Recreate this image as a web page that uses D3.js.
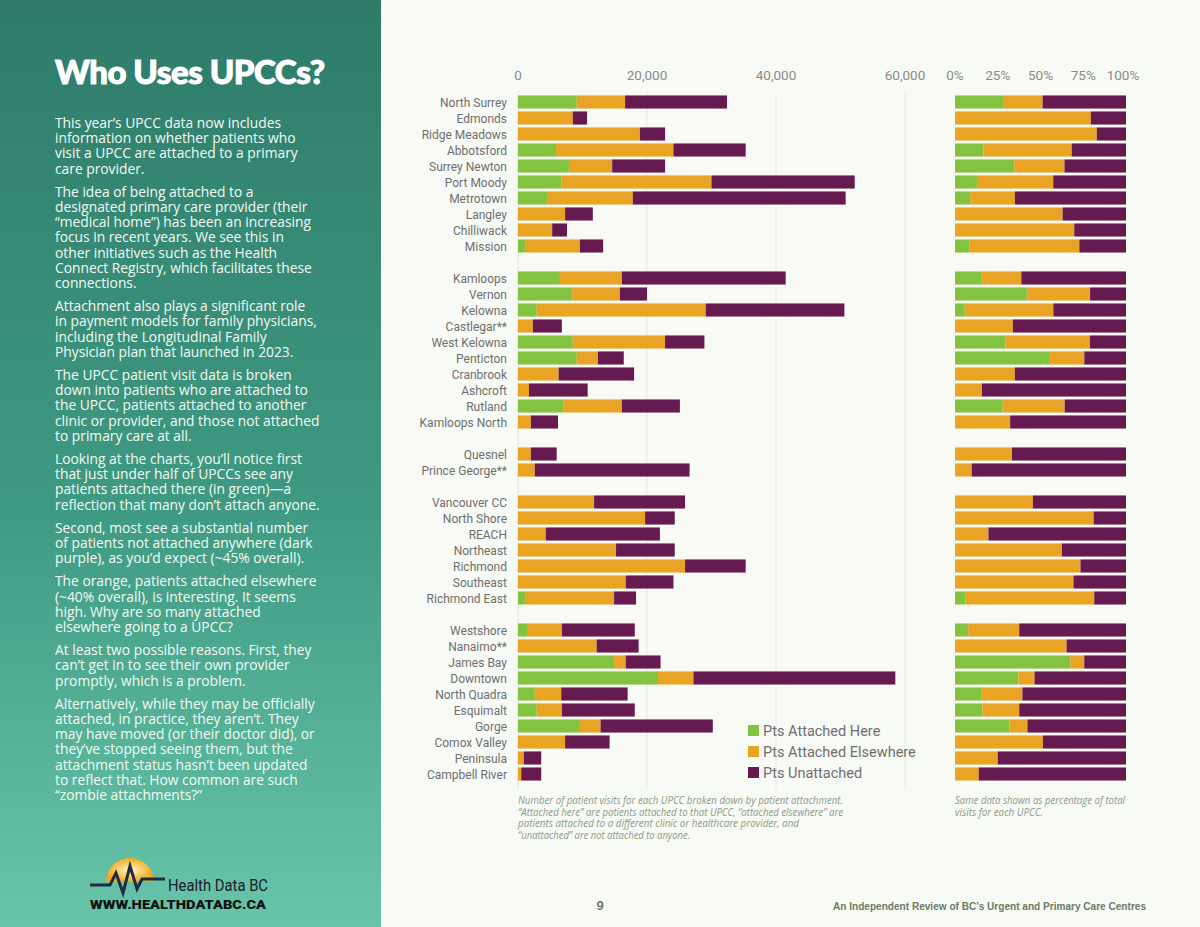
<!DOCTYPE html>
<html><head><meta charset="utf-8">
<script src="https://cdn.jsdelivr.net/npm/d3@7"></script>
<style>
body{margin:0;width:1200px;height:927px;overflow:hidden;background:#f8faf5;}
svg{display:block}
</style></head><body>
<svg id="c" width="1200" height="927"></svg>
<script>
const centres = ["North Surrey","Edmonds","Ridge Meadows","Abbotsford","Surrey Newton","Port Moody","Metrotown","Langley","Chilliwack","Mission","",
"Kamloops","Vernon","Kelowna","Castlegar**","West Kelowna","Penticton","Cranbrook","Ashcroft","Rutland","Kamloops North","",
"Quesnel","Prince George**","",
"Vancouver CC","North Shore","REACH","Northeast","Richmond","Southeast","Richmond East","",
"Westshore","Nanaimo**","James Bay","Downtown","North Quadra","Esquimalt","Gorge","Comox Valley","Peninsula","Campbell River"];
const attachedHere = [9.1,0,0,5.9,7.9,6.7,4.5,0,0,1.1,null,
6.5,8.4,2.9,0,8.5,9.1,0,0,7.0,0,null,
0,0,null,
0,0,0,0,0,0,1.1,null,
1.4,0,14.9,21.7,2.6,2.9,9.6,0,0,0];
const attachedElsewhere = [7.5,8.5,18.9,18.2,6.7,23.3,13.3,7.3,5.3,8.5,null,
9.6,7.4,26.2,2.3,14.3,3.3,6.3,1.7,9.1,2.0,null,
2.0,2.6,null,
11.8,19.7,4.3,15.2,25.9,16.7,13.8,null,
5.4,12.2,1.8,5.5,4.1,3.9,3.2,7.3,0.9,0.5];
const unattached = [15.8,2.2,3.9,11.2,8.2,22.2,33.0,4.3,2.3,3.6,null,
25.4,4.2,21.5,4.5,6.1,4.0,11.7,9.1,9.0,4.2,null,
4.0,24.0,null,
14.1,4.6,17.7,9.1,9.4,7.4,3.4,null,
11.3,6.5,5.4,31.3,10.3,11.3,17.4,6.9,2.7,3.1];
const seriesNames = ["Pts Attached Here","Pts Attached Elsewhere","Pts Unattached"];
const countTicks = [0,20000,40000,60000];
const pctTicks = [0,0.25,0.5,0.75,1];
const colors = ["#84c341","#e9a325","#661a4f"];

const svg = d3.select("#c");
const defs = svg.append("defs");
const g = defs.append("linearGradient").attr("id","lg").attr("x1",0).attr("y1",0).attr("x2",0).attr("y2",1);
g.append("stop").attr("offset","0%").attr("stop-color","#2e7b69");
g.append("stop").attr("offset","55%").attr("stop-color","#3f9a83");
g.append("stop").attr("offset","100%").attr("stop-color","#68c5aa");
const sg = defs.append("radialGradient").attr("id","sun");
sg.append("stop").attr("offset","0%").attr("stop-color","#fff6c8");
sg.append("stop").attr("offset","100%").attr("stop-color","#f0a818");
svg.append("rect").attr("width",381).attr("height",927).attr("fill","url(#lg)");
svg.append("text").attr("x",55).attr("y",84).text("Who Uses UPCCs?")
 .attr("fill","#fff").attr("font-family","Lato, sans-serif").attr("font-weight",900).attr("font-size",33).attr("stroke","#fff").attr("stroke-width",1).attr("textLength",270);
const paras = [
["This year’s UPCC data now includes","information on whether patients who","visit a UPCC are attached to a primary","care provider."],
["The idea of being attached to a","designated primary care provider (their","“medical home”) has been an increasing","focus in recent years. We see this in","other initiatives such as the Health","Connect Registry, which facilitates these","connections."],
["Attachment also plays a significant role","in payment models for family physicians,","including the Longitudinal Family","Physician plan that launched in 2023."],
["The UPCC patient visit data is broken","down into patients who are attached to","the UPCC, patients attached to another","clinic or provider, and those not attached","to primary care at all."],
["Looking at the charts, you’ll notice first","that just under half of UPCCs see any","patients attached there (in green)—a","reflection that many don’t attach anyone."],
["Second,  most see a substantial number","of patients not attached anywhere (dark","purple), as you’d expect (~45% overall)."],
["The orange, patients attached elsewhere","(~40% overall), is interesting. It seems","high. Why are so many attached","elsewhere going to a UPCC?"],
["At least two possible reasons. First, they","can’t get in to see their own provider","promptly, which is a problem."],
["Alternatively, while they may be officially","attached, in practice, they aren’t. They","may have moved (or their doctor did), or","they’ve stopped seeing them, but the","attachment status hasn’t been updated","to reflect that. How common are such","“zombie attachments?”"]];
let y = 128;
paras.forEach(p=>{
  p.forEach(l=>{svg.append("text").attr("x",55).attr("y",y).text(l).attr("fill","#f4fbf2")
   .attr("font-family","'Open Sans', sans-serif").attr("font-size",13.8);y+=15.2;});
  y+=8;
});
const lg = svg.append("g");
lg.append("path").attr("d","M106,882 A24,24 0 0 1 154,882 Z").attr("fill","url(#sun)");
lg.append("path").attr("d","M90,885 L110,885 L116,873 L123,893 L130,866 L137,889 L142,879 L165,879").attr("fill","none").attr("stroke","#1f2b44").attr("stroke-width",3);
lg.append("text").attr("x",168).attr("y",891).text("Health Data BC").attr("font-family","'Liberation Sans Narrow', Roboto, sans-serif").attr("font-size",17).attr("fill","#1a1a2a").attr("textLength",100).attr("lengthAdjust","spacingAndGlyphs");
lg.append("text").attr("x",90).attr("y",909).text("WWW.HEALTHDATABC.CA").attr("font-family","Roboto, sans-serif").attr("font-weight",900).attr("font-size",12).attr("fill","#111").attr("textLength",176).attr("lengthAdjust","spacingAndGlyphs");

const data = centres.map((c,i)=>({c,i,v:[attachedHere[i],attachedElsewhere[i],unattached[i]]}));
const y0 = 94, step = 16;
const yS = d3.scaleBand().domain(d3.range(centres.length)).range([y0,y0+step*centres.length]).paddingInner(0.18).paddingOuter(0.09);
const x = d3.scaleLinear().domain([0,60000]).range([518,905]);
const xp = d3.scaleLinear().domain([0,1]).range([955,1126]);
const font = "Roboto, 'Liberation Sans', sans-serif";
const gx = svg.append("g");
countTicks.forEach(t=>{
  gx.append("line").attr("x1",x(t)).attr("x2",x(t)).attr("y1",92).attr("y2",790).attr("stroke",t?"#e8ebe4":"#e0e3dc");
  gx.append("text").attr("x",x(t)).attr("y",80).attr("text-anchor","middle").text(d3.format(",")(t)).attr("font-family",font).attr("font-size",13.5).attr("fill","#8a8a8a");
});
pctTicks.forEach(t=>{
  gx.append("text").attr("x",xp(t)+(t==1?-3:0)).attr("y",80).attr("text-anchor","middle").text(d3.format(".0%")(t)).attr("font-family",font).attr("font-size",13.5).attr("fill","#8a8a8a");
});
data.filter(d=>d.c).forEach(d=>{
  const yy = yS(d.i), h = yS.bandwidth();
  svg.append("text").attr("x",507).attr("y",yy+h/2+4.5).attr("text-anchor","end").text(d.c).attr("font-family",font).attr("font-size",12).attr("fill","#6f6f6f");
  let acc=0; const tot=d3.sum(d.v);
  d.v.forEach((v,k)=>{
    if(v>0){
      svg.append("rect").attr("x",x(acc*1000)).attr("y",yy).attr("width",x((acc+v)*1000)-x(acc*1000)).attr("height",h).attr("fill",colors[k]);
      svg.append("rect").attr("x",xp(acc/tot)).attr("y",yy).attr("width",xp((acc+v)/tot)-xp(acc/tot)).attr("height",h).attr("fill",colors[k]);
    }
    acc+=v;
  });
});
seriesNames.forEach((s,k)=>{
  const ly = 731+k*21;
  svg.append("rect").attr("x",748).attr("y",ly-6).attr("width",11).attr("height",11).attr("fill",colors[k]);
  svg.append("text").attr("x",763).attr("y",ly+5).text(s).attr("font-family",font).attr("font-size",14.5).attr("fill","#6f6f6f");
});
const capStyle = (t,w)=>t.attr("font-family","'Open Sans', sans-serif").attr("font-style","italic").attr("font-size",10.5).attr("fill","#8c9a88").attr("textLength",w).attr("lengthAdjust","spacingAndGlyphs");
const cap1 = ["Number of patient visits for each UPCC broken down by patient attachment.","“Attached here” are patients attached to that UPCC, “attached elsewhere” are","patients attached to a different clinic or healthcare provider, and","“unattached” are not attached to anyone."];
const w1 = [325,325,281,172];
cap1.forEach((l,i)=>capStyle(svg.append("text").attr("x",518).attr("y",804+i*11.5).text(l),w1[i]));
["Same data shown as percentage of total","visits for each UPCC."]
 .forEach((l,i)=>capStyle(svg.append("text").attr("x",955).attr("y",804+i*11.5).text(l),[170,88][i]));
svg.append("text").attr("x",600).attr("y",910).attr("text-anchor","middle").text("9").attr("font-family","'Liberation Sans', sans-serif").attr("font-weight",700).attr("font-size",13).attr("fill","#6b7d66");
svg.append("text").attr("x",833).attr("y",910).text("An Independent Review of BC’s Urgent and Primary Care Centres").attr("font-family","'Liberation Sans', sans-serif").attr("font-weight",700).attr("font-size",11.5).attr("fill","#6b7d66").attr("textLength",313).attr("lengthAdjust","spacingAndGlyphs");
</script></body></html>
